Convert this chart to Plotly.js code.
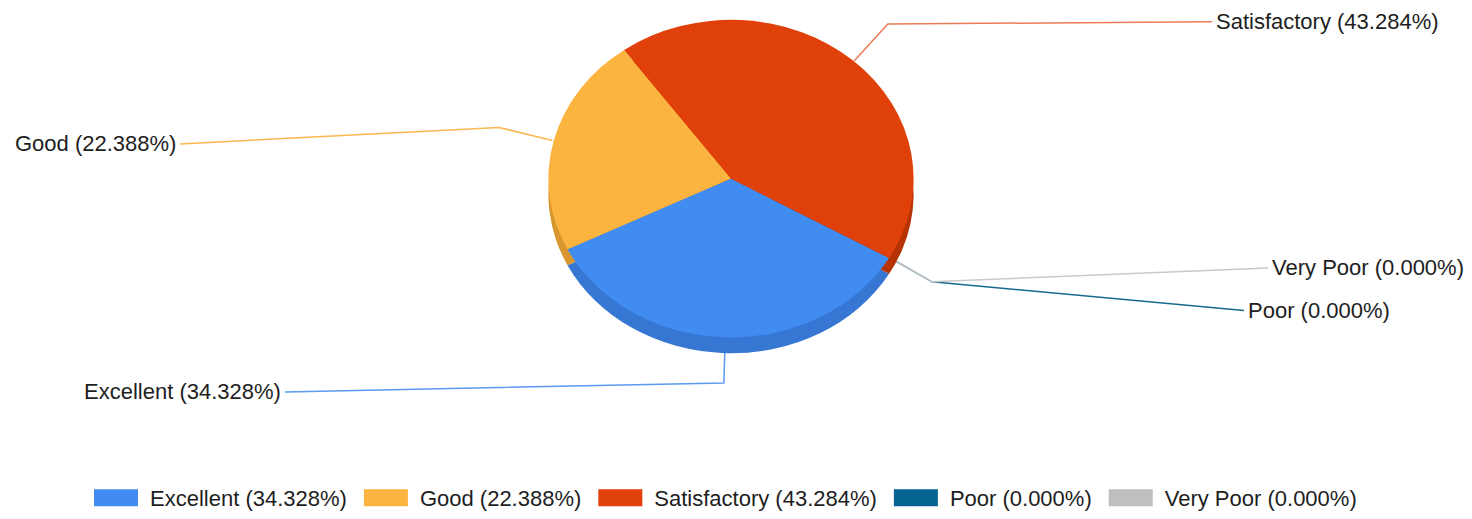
<!DOCTYPE html>
<html><head><meta charset="utf-8">
<script src="https://cdn.plot.ly/plotly-3.0.1.min.js"></script>
<style>html,body{margin:0;padding:0;background:#fff}#chart{width:1472px;height:519px}</style>
</head><body><div id="chart"></div>
<script>
// ---- data ----
const categories = ["Excellent", "Good", "Satisfactory", "Poor", "Very Poor"];
const counts = [23, 15, 29, 0, 0];
const colors = ["#418CF0", "#FCB441", "#E0400A", "#056492", "#BFBFBF"];
const rimColors = ["#3777D4", "#D8962E", "#B53406", "#04507A", "#A5A5A5"];
const leaderColors = ["#5A9AF0", "#FBB84E", "#EC7A55", "#16698F", "#C9C9C9"];

// ---- layout helpers ----
const W = 1472, H = 519;
const total = counts.reduce((a, b) => a + b, 0);
const pct = counts.map(v => v / total * 100);
const labels = categories.map((c, i) => c + " (" + pct[i].toFixed(3) + "%)");

const cx = 731, cy = 180, R = 160, RX = 184, depth = 16, rotation = 120;
const fx = p => p / W, fy = p => 1 - p / H;
function domain(c, y) { return { x: [fx(c - R), fx(c + R)], y: [fy(y + R), fy(y - R)] }; }

const labelPos = [
  { side: "right", x: 283, y: 395 },
  { side: "right", x: 178, y: 145 },
  { side: "left", x: 1214, y: 22 },
  { side: "left", x: 1246, y: 313 },
  { side: "left", x: 1270, y: 270 }
];
const elbowLen = [46, 55, 50, 48, 48];

const rim = {
  type: "pie", labels: labels, values: counts, sort: false, direction: "clockwise",
  rotation: rotation, domain: domain(cx, cy + depth), textinfo: "none", hoverinfo: "skip",
  marker: { colors: rimColors, line: { width: 0 } }, showlegend: false
};
const front = {
  type: "pie", labels: labels, values: counts, sort: false, direction: "clockwise",
  rotation: rotation, domain: domain(cx, cy), textinfo: "none", hoverinfo: "label",
  marker: { colors: colors, line: { width: 0 } }
};

const shapes = [], annotations = [];
let cum = 0;
counts.forEach((v, i) => {
  const th = (rotation + (cum + v / 2) / total * 360) * Math.PI / 180;
  cum += v;
  const sx = Math.sin(th), sy = -Math.cos(th);
  const ax = cx + RX * sx, ay = cy + R * sy;
  const ex = ax + elbowLen[i] * sx, ey = ay + elbowLen[i] * sy;
  const lp = labelPos[i];
  const lx = lp.side === "left" ? lp.x - 2 : lp.x + 2;
  shapes.push({
    type: "path", xref: "paper", yref: "paper", layer: "below",
    path: "M" + fx(ax) + "," + fy(ay) + " L" + fx(ex) + "," + fy(ey) + " L" + fx(lx) + "," + fy(lp.y),
    line: { color: leaderColors[i], width: 1.5 }
  });
  annotations.push({
    xref: "paper", yref: "paper", x: fx(lp.x), y: fy(lp.y),
    xanchor: lp.side === "left" ? "left" : "right", yanchor: "middle",
    text: labels[i], showarrow: false,
    font: { family: "Liberation Sans, Arial, sans-serif", size: 22, color: "#1e1e1e" }
  });
});

const layout = {
  width: W, height: H, margin: { l: 0, r: 0, t: 0, b: 0 },
  paper_bgcolor: "#ffffff", plot_bgcolor: "#ffffff",
  font: { family: "Liberation Sans, Arial, sans-serif", size: 22, color: "#1e1e1e" },
  showlegend: true,
  legend: {
    orientation: "h", x: fx(722), xanchor: "center", y: fy(502), yanchor: "middle",
    itemwidth: 58, font: { size: 22, color: "#1e1e1e" }, traceorder: "normal"
  },
  shapes: shapes, annotations: annotations
};

Plotly.newPlot("chart", [rim, front], layout, { displayModeBar: false, staticPlot: true }).then(gd => {
  gd.querySelectorAll(".legendpie").forEach(p => p.setAttribute("d", "M22,8.5H-22V-8.5H22Z"));
  const k = RX / R;
  gd.querySelectorAll(".pielayer .trace").forEach(g => {
    g.setAttribute("transform", "translate(" + cx + ",0) scale(" + k + ",1) translate(" + (-cx) + ",0)");
  });
});
</script>
</body></html>
